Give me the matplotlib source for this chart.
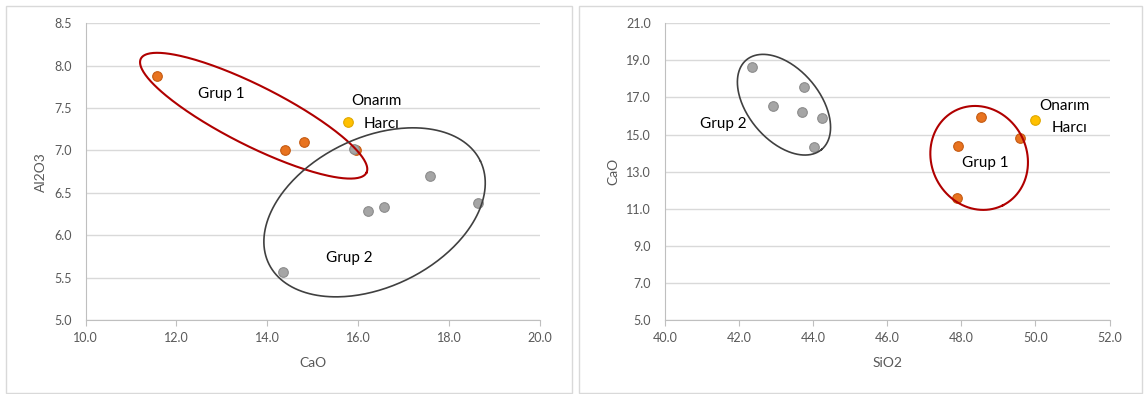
import numpy as np
import matplotlib
matplotlib.use("Agg")
import matplotlib.pyplot as plt
from matplotlib.patches import Rectangle

plt.rcParams['font.family'] = ['Lato', 'DejaVu Sans']

# Grup 1 (orange), Grup 2 (gray), Onarim Harci (yellow)
grup1_cao = [11.57, 14.39, 14.80, 15.95]
grup1_al2o3 = [7.88, 7.00, 7.10, 7.00]
grup1_sio2 = [47.89, 47.91, 49.57, 48.54]

grup2_cao = [18.63, 17.58, 16.56, 16.22, 15.90, 14.35]
grup2_al2o3 = [6.38, 6.70, 6.33, 6.29, 7.02, 5.57]
grup2_sio2 = [42.36, 43.76, 42.92, 43.71, 44.23, 44.01]

onarim_cao = [15.77]
onarim_al2o3 = [7.34]
onarim_sio2 = [49.98]

left_xticks = np.arange(10.0, 20.1, 2.0)
left_yticks = np.arange(5.0, 8.51, 0.5)
right_xticks = np.arange(40.0, 52.1, 2.0)
right_yticks = np.arange(5.0, 21.1, 2.0)

ORANGE = '#E8731F'
ORANGE_EDGE = '#C55A11'
GRAY = '#A5A5A5'
GRAY_EDGE = '#8C8C8C'
YELLOW = '#FFC000'
YELLOW_EDGE = '#E0A800'
RED = '#B00000'
DARK = '#404040'
TXT = '#595959'

fig = plt.figure(figsize=(11.46, 3.94), dpi=100)

# panel frames
for x0, x1 in [(6, 572), (579, 1142)]:
    fig.patches.append(Rectangle((x0 / 1146, 1 / 394), (x1 - x0) / 1146, 387 / 394,
                                 transform=fig.transFigure, fill=False,
                                 edgecolor='#D9D9D9', linewidth=1.0))

ax1 = fig.add_axes([85.5 / 1146, 74 / 394, 454.5 / 1146, 296.7 / 394])
ax2 = fig.add_axes([665.1 / 1146, 74 / 394, 444.4 / 1146, 296.7 / 394])


def style(ax, xticks, yticks, xlabel, ylabel):
    ax.set_xlim(xticks[0], xticks[-1])
    ax.set_ylim(yticks[0], yticks[-1])
    ax.set_xticks(xticks)
    ax.set_yticks(yticks)
    ax.set_xticklabels([f"{v:.1f}" for v in xticks])
    ax.set_yticklabels([f"{v:.1f}" for v in yticks])
    ax.grid(axis='y', color='#D9D9D9', linewidth=1.0)
    ax.set_axisbelow(True)
    for s in ['top', 'right']:
        ax.spines[s].set_visible(False)
    for s in ['left', 'bottom']:
        ax.spines[s].set_color('#BFBFBF')
    ax.tick_params(axis='x', length=4, color='#BFBFBF', labelsize=9, labelcolor=TXT, pad=5)
    ax.tick_params(axis='y', length=0, labelsize=9, labelcolor=TXT, pad=10)
    ax.set_xlabel(xlabel, fontsize=10, color=TXT, labelpad=9)
    ax.set_ylabel(ylabel, fontsize=10, color=TXT, labelpad=5)


def ellipse(ax, cx, cy, a, b, ang, color, lw):
    # a, b in pixels, angle in screen space
    x0, x1 = ax.get_xlim()
    y0, y1 = ax.get_ylim()
    sx = ax.bbox.width / (x1 - x0)
    sy = ax.bbox.height / (y1 - y0)
    t = np.linspace(0, 2 * np.pi, 300)
    th = np.deg2rad(ang)
    u = a * np.cos(t) * np.cos(th) - b * np.sin(t) * np.sin(th)
    v = a * np.cos(t) * np.sin(th) + b * np.sin(t) * np.cos(th)
    ax.plot(cx + u / sx, cy + v / sy, color=color, linewidth=lw, zorder=4)


def points(ax, x1, y1, x2, y2, x3, y3):
    ax.scatter(x1, y1, s=48, color=ORANGE, edgecolor=ORANGE_EDGE, linewidth=0.8, zorder=3)
    ax.scatter(x2, y2, s=48, color=GRAY, edgecolor=GRAY_EDGE, linewidth=0.8, zorder=3)
    ax.scatter(x3, y3, s=48, color=YELLOW, edgecolor=YELLOW_EDGE, linewidth=0.8, zorder=3)


# left: CaO vs Al2O3
style(ax1, left_xticks, left_yticks, 'CaO', 'Al2O3')
points(ax1, grup1_cao, grup1_al2o3, grup2_cao, grup2_al2o3, onarim_cao, onarim_al2o3)
ellipse(ax1, 13.70, 7.41, 126.4, 29.8, -26.8, RED, 1.5)
ellipse(ax1, 16.36, 6.27, 117.6, 74.6, 25.9, DARK, 1.2)
ax1.text(12.98, 7.67, 'Grup 1', fontsize=11, ha='center', va='center', color='black')
ax1.text(15.80, 5.73, 'Grup 2', fontsize=11, ha='center', va='center', color='black')
ax1.text(16.41, 7.58, 'Onarım', fontsize=11, ha='center', va='center', color='black')
ax1.text(16.52, 7.31, 'Harcı', fontsize=11, ha='center', va='center', color='black')

# right: SiO2 vs CaO
style(ax2, right_xticks, right_yticks, 'SiO2', 'CaO')
points(ax2, grup1_sio2, grup1_cao, grup2_sio2, grup2_cao, onarim_sio2, onarim_cao)
ellipse(ax2, 43.21, 16.61, 58.5, 35.8, -49.9, DARK, 1.2)
ellipse(ax2, 48.48, 13.74, 53.0, 47.7, -63.3, RED, 1.5)
ax2.text(41.58, 15.57, 'Grup 2', fontsize=11, ha='center', va='center', color='black')
ax2.text(48.66, 13.49, 'Grup 1', fontsize=11, ha='center', va='center', color='black')
ax2.text(50.79, 16.54, 'Onarım', fontsize=11, ha='center', va='center', color='black')
ax2.text(50.91, 15.37, 'Harcı', fontsize=11, ha='center', va='center', color='black')

fig.savefig('out.png', dpi=100)
